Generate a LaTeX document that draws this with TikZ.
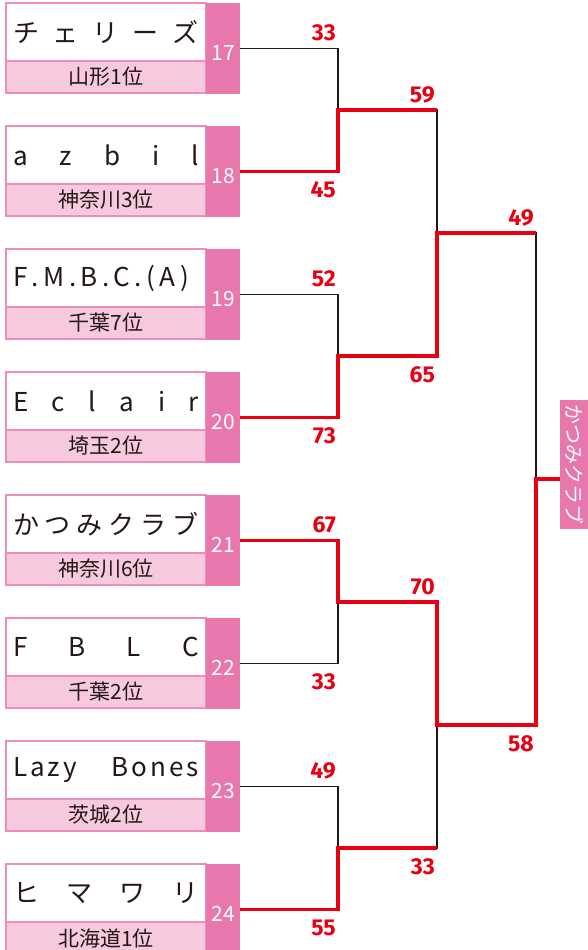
\documentclass[tikz,border=0pt]{standalone}
\usepackage{fontspec}
\setmainfont{Noto Sans CJK JP}
\newfontfamily\scorefont{Fira Sans}
\usetikzlibrary{positioning, calc}

\definecolor{pinkcol}{HTML}{E877AD}
\definecolor{pinkband}{HTML}{F6C9DE}
\definecolor{pinkline}{HTML}{EE8DBB}
\definecolor{winred}{HTML}{E60012}
\definecolor{lineblk}{HTML}{231815}

\tikzset{
  namebox/.style={draw=pinkline, line width=1.2pt, fill=white, minimum width=200pt, minimum height=58pt,
    inner sep=0pt, outer sep=0pt, text=lineblk, font=\fontsize{26}{26}\selectfont},
  prefbox/.style={draw=pinkline, line width=1.2pt, fill=pinkband, minimum width=200pt, minimum height=32pt,
    inner sep=0pt, outer sep=0pt, text=lineblk, font=\fontsize{21}{21}\selectfont},
  numbox/.style={fill=pinkcol, minimum width=34pt, minimum height=91pt, inner sep=0pt, outer sep=0pt,
    text=white, text height=24pt, text depth=0pt, font=\fontsize{21}{21}\selectfont},
  champbox/.style={fill=pinkcol, rotate=-90, minimum width=129pt, minimum height=28pt, inner sep=0pt,
    outer sep=0pt, text=white, font=\fontsize{20}{20}\selectfont},
  score/.style={text=winred, inner sep=0pt, font=\scorefont\bfseries\fontsize{23}{23}\selectfont},
  sctop/.style={score, anchor=south east, xshift=-2pt, yshift=7pt},
  scbot/.style={score, anchor=north east, xshift=-2pt, yshift=-10pt},
  loser/.style={lineblk, line width=1.3pt},
  winner/.style={winred, line width=3.8pt},
}

\begin{document}
\begin{tikzpicture}[x=1pt, y=-1pt]
  \useasboundingbox (0,0) rectangle (588,950);

  % Teams
  \foreach \k/\no/\nm/\pr in {
    1/17/{チ\hfill ェ\hfill リ\hfill ー\hfill ズ}/山形1位,
    2/18/{a\hfill z\hfill b\hfill i\hfill l}/神奈川3位,
    3/19/{F\hfill .\hfill M\hfill .\hfill B\hfill .\hfill C\hfill .\hfill (\hfill A\hfill )\kern10pt}/千葉7位,
    4/20/{E\hfill c\hfill l\hfill a\hfill i\hfill r}/埼玉2位,
    5/21/{か\hfill つ\hfill み\hfill ク\hfill ラ\hfill ブ}/神奈川6位,
    6/22/{F\hfill B\hfill L\hfill C}/千葉2位,
    7/23/{L\kern3pt a\kern3pt z\kern3pt y\hfill B\kern3pt o\kern3pt n\kern3pt e\kern3pt s}/茨城2位,
    8/24/{ヒ\hfill マ\hfill ワ\hfill リ}/北海道1位} {
    \node[namebox] (t\k) at (106,{32+123*(\k-1)}) {\hbox to 186pt{\nm}};
    \node[prefbox, below=0pt of t\k] (p\k) {\pr};
    \node[numbox] (n\k) at (223,{48.5+123*(\k-1)}) {\no};
  }

  % Champion
  \node[champbox] (champ) at (574,464) {かつみクラブ};

  % Junctions
  \coordinate (q1) at (338,110);
  \coordinate (q2) at (338,356);
  \coordinate (q3) at (338,602);
  \coordinate (q4) at (338,848);
  \coordinate (s1) at (437,233);
  \coordinate (s2) at (437,725);
  \coordinate (f)  at (536,479);

  % Bracket lines
  \foreach \a/\b in {n1/q1, n2/q1, n3/q2, n4/q2, n5/q3, n6/q3, n7/q4, n8/q4, q1/s1, q2/s1, q3/s2, q4/s2, s1/f, s2/f}
    \draw[loser] (\a) -| (\b);

  % Winners
  \draw[winner] (n2.east) -| (q1) -- (q1 -| s1);
  \draw[winner] (n4.east) -| (q2) -| (s1) -- (s1 -| f);
  \draw[winner] (n5.east) -| (q3) -| (s2) -| (f) -- (f -| champ.south);
  \draw[winner] (n8.east) -| (q4) -- (q4 -| s2);

  % Scores
  \node[sctop] (sc1)  at (n1.east -| q1) {33};
  \node[scbot] (sc2)  at (n2.east -| q1) {45};
  \node[sctop] (sc3)  at (n3.east -| q2) {52};
  \node[scbot] (sc4)  at (n4.east -| q2) {73};
  \node[sctop] (sc5)  at (n5.east -| q3) {67};
  \node[scbot] (sc6)  at (n6.east -| q3) {33};
  \node[sctop] (sc7)  at (n7.east -| q4) {49};
  \node[scbot] (sc8)  at (n8.east -| q4) {55};
  \node[sctop] (sc9)  at (q1 -| s1) {59};
  \node[scbot] (sc10) at (q2 -| s1) {65};
  \node[sctop] (sc11) at (q3 -| s2) {70};
  \node[scbot] (sc12) at (q4 -| s2) {33};
  \node[sctop] (sc13) at (s1 -| f) {49};
  \node[scbot] (sc14) at (s2 -| f) {58};
\end{tikzpicture}
\end{document}
